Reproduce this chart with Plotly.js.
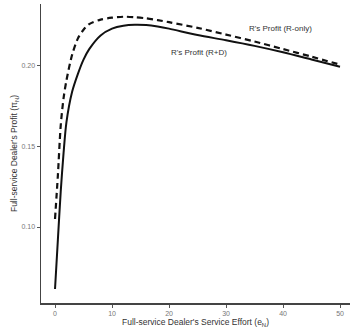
<!DOCTYPE html>
<html>
<head>
<meta charset="utf-8">
<script src="https://cdn.plot.ly/plotly-3.0.1.min.js"></script>
<style>html,body{margin:0;padding:0;background:#fff;}#chart{width:351px;height:332px;}</style>
</head>
<body>
<div id="chart"></div>
<script>
const effort = [0, 0.5, 1, 1.5, 2, 3, 4, 5, 6, 8, 10, 12, 14, 16, 18, 20, 25, 30, 35, 40, 45, 50];
const profitRD = [0.0615, 0.092, 0.122, 0.146, 0.165, 0.184, 0.195, 0.204, 0.2105, 0.219, 0.2232, 0.2250, 0.2256, 0.2254, 0.2245, 0.2232, 0.2192, 0.2160, 0.2125, 0.2085, 0.2040, 0.1995];
const profitROnly = [0.105, 0.132, 0.163, 0.180, 0.191, 0.207, 0.217, 0.2225, 0.226, 0.2288, 0.2300, 0.2306, 0.2303, 0.2296, 0.2285, 0.2272, 0.2237, 0.2195, 0.2152, 0.2105, 0.2058, 0.2008];
const yTicks = [0.10, 0.15, 0.20];
const xTicks = [0, 10, 20, 30, 40, 50];
const labelROnly = "R's Profit (R-only)";
const labelRD = "R's Profit (R+D)";

const font = "Liberation Sans, Arial, sans-serif";
const traces = [
  {x: effort, y: profitROnly, mode: 'lines', line: {color: '#111', width: 2.2, dash: '6px,4px', shape: 'spline', smoothing: 0.8}, hoverinfo: 'skip'},
  {x: effort, y: profitRD, mode: 'lines', line: {color: '#111', width: 2, shape: 'spline', smoothing: 0.8}, hoverinfo: 'skip'}
];
const layout = {
  width: 351, height: 332,
  margin: {l: 41, r: 1, t: 4, b: 29},
  paper_bgcolor: '#fff', plot_bgcolor: '#fff',
  showlegend: false,
  font: {family: font, color: '#333'},
  xaxis: {
    range: [-2.46, 51.75], tickvals: xTicks, ticks: 'outside', ticklen: 3, tickcolor: '#555',
    tickfont: {size: 7, color: '#777'}, showgrid: false, zeroline: false,
    showline: true, linecolor: '#444', linewidth: 1.5,
    title: {text: "Full-service Dealer's Service Effort (e<sub>N</sub>)", font: {size: 8.5, color: '#333'}, standoff: 1}
  },
  yaxis: {
    range: [0.0528, 0.2385], tickvals: yTicks, tickformat: '.2f', ticks: 'outside', ticklen: 3, tickcolor: '#555',
    tickfont: {size: 7, color: '#777'}, showgrid: false, zeroline: false,
    showline: true, linecolor: '#444', linewidth: 1.5,
    title: {text: "Full-service Dealer's Profit (π<sub>N</sub>)", font: {size: 8.5, color: '#333'}, standoff: 2}
  },
  annotations: [
    {x: 39.5, y: 0.2235, xref: 'x', yref: 'y', text: labelROnly, showarrow: false, font: {size: 8, color: '#333'}},
    {x: 25.2, y: 0.2081, xref: 'x', yref: 'y', text: labelRD, showarrow: false, font: {size: 8, color: '#333'}}
  ]
};
Plotly.newPlot('chart', traces, layout, {staticPlot: true, displayModeBar: false});
</script>
</body>
</html>
